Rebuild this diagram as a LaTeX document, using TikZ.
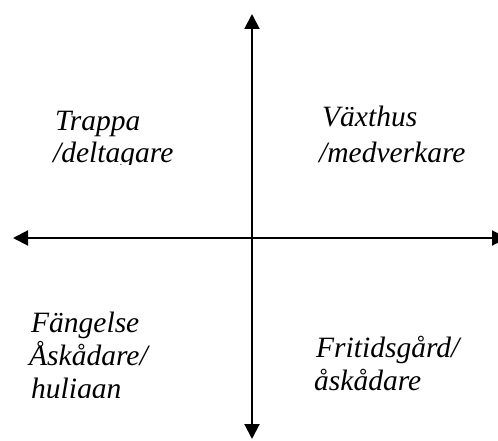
\documentclass[tikz,border=0pt]{standalone}
\usepackage{fontspec}
\setmainfont{Liberation Serif}
\usetikzlibrary{arrows.meta}
\begin{document}
\begin{tikzpicture}[x=1pt,y=-1pt,
  axis/.style={line width=2pt,{Triangle[length=15pt,width=15pt]}-{Triangle[length=15pt,width=15pt]}},
  lbl/.style={anchor=base west,inner sep=0pt,font=\fontsize{29.5}{35}\selectfont\itshape}]
\useasboundingbox (0,0) rectangle (498,441);
\coordinate (top) at (252,14);
\coordinate (bot) at (252,439);
\coordinate (left) at (13,238);
\coordinate (right) at (507,238);
\draw[axis] (top) -- (bot);
\draw[axis] (left) -- (right);
\begin{scope}
\clip (0,100) rectangle (245,165);
\node[lbl] (t1) at (55,131) {Trappa};
\node[lbl] (t2) at (53,163) {/deltagare};
\end{scope}
\node[lbl] (v1) at (322,127) {Växthus};
\node[lbl] (v2) at (319,162) {/medverkare};
\begin{scope}
\clip (0,300) rectangle (245,397);
\node[lbl] (f1) at (31,332) {Fängelse};
\node[lbl] (f2) at (29,365) {Åskådare/};
\node[lbl] (f3) at (31,398) {huligan};
\end{scope}
\node[lbl] (g1) at (316,357) {Fritidsgård/};
\node[lbl] (g2) at (314,390) {åskådare};
\end{tikzpicture}
\end{document}
